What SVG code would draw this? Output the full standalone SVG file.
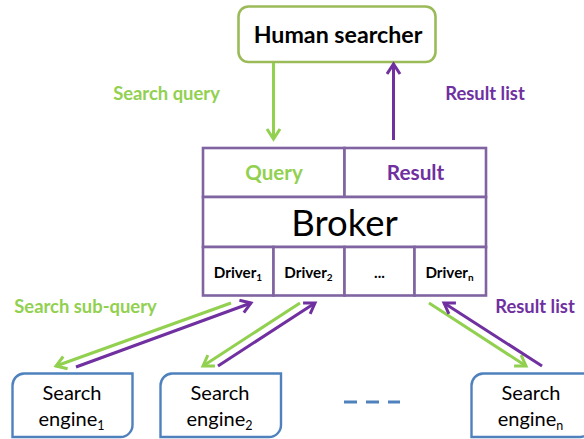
<svg xmlns="http://www.w3.org/2000/svg" width="584" height="439" viewBox="0 0 584 439">
<style>
text{font-family:Lato,"Liberation Sans",sans-serif;fill:#000;text-anchor:middle}
.b{font-weight:700}
.g{fill:#92d050}.p{fill:#7030a0}
.cell{fill:#fff;stroke:#8064a2;stroke-width:2.6}
.eng{fill:#fff;stroke:#4f81bd;stroke-width:2.4}
.c{fill:none;stroke-width:3}
.gl{stroke:#92d050}.pl{stroke:#7030a0}
.e{font-size:20px}.d{font-size:15.200px;font-weight:700}
.l{font-size:18.400px;font-weight:700}
</style>
<defs>
<marker id="ag" markerUnits="userSpaceOnUse" markerWidth="18" markerHeight="18" refX="13" refY="8" orient="auto"><path d="M3 1.5L13 8L3 14.5" fill="none" stroke="#92d050" stroke-width="3"/></marker>
<marker id="ap" markerUnits="userSpaceOnUse" markerWidth="18" markerHeight="18" refX="13" refY="8" orient="auto"><path d="M3 1.500L13 8L3 14.500" fill="none" stroke="#7030a0" stroke-width="3"/></marker>
</defs>
<g id="human-searcher">
<rect x="238.500" y="6.500" width="197" height="55.500" rx="10" fill="#fff" stroke="#9bbb59" stroke-width="2.600"/>
<text x="338" y="42.500" class="b" font-size="23.200">Human searcher</text>
</g>
<g id="broker">
<rect class="cell" x="203" y="148" width="141.500" height="49"/>
<rect class="cell" x="344.500" y="148" width="141.500" height="49"/>
<rect class="cell" x="203" y="197" width="283" height="50"/>
<rect class="cell" x="203" y="247" width="70.500" height="48.500"/>
<rect class="cell" x="273.500" y="247" width="71" height="48.500"/>
<rect class="cell" x="344.500" y="247" width="70" height="48.500"/>
<rect class="cell" x="414.500" y="247" width="71.500" height="48.500"/>
<text x="274" y="180" class="b g" font-size="20.500">Query</text>
<text x="415.500" y="179.500" class="b p" font-size="20.800">Result</text>
<text x="344.500" y="235.500" font-size="36.500">Broker</text>
<text x="238" y="277.500" class="d">Driver<tspan font-size="10" dy="3">1</tspan></text>
<text x="308.500" y="277.500" class="d">Driver<tspan font-size="10" dy="3">2</tspan></text>
<text x="379.500" y="277.500" class="d">...</text>
<text x="449.500" y="277.500" class="d">Driver<tspan font-size="10" dy="3">n</tspan></text>
</g>
<g id="engine-1">
<path class="eng" d="M24 373.500H132.500V425A12 12 0 0 1 120.500 437H12.500V385.500A12 12 0 0 1 24 373.500Z"/>
<text x="72" y="400" class="e">Search</text>
<text x="71.500" y="426" class="e">engine<tspan font-size="12.500" dy="4">1</tspan></text>
</g>
<g id="engine-2">
<path class="eng" d="M172 373.500H281V425A12 12 0 0 1 269 437H160.500V385.500A12 12 0 0 1 172 373.500Z"/>
<text x="220" y="400" class="e">Search</text>
<text x="219.500" y="426" class="e">engine<tspan font-size="12.500" dy="4">2</tspan></text>
</g>
<g id="engine-n">
<path class="eng" d="M483 373.500H592V425A12 12 0 0 1 580 437H471.500V385.500A12 12 0 0 1 483 373.500Z"/>
<text x="531" y="400" class="e">Search</text>
<text x="530.500" y="426" class="e">engine<tspan font-size="12.500" dy="4">n</tspan></text>
</g>
<g id="connectors">
<path class="c gl" marker-end="url(#ag)" d="M273.500 63V139"/>
<path class="c pl" marker-end="url(#ap)" d="M393.500 140V64"/>
<path class="c gl" marker-end="url(#ag)" d="M231 303L56 366"/>
<path class="c pl" marker-end="url(#ap)" d="M76 367L251 303"/>
<path class="c gl" marker-end="url(#ag)" d="M300 303L203 366"/>
<path class="c pl" marker-end="url(#ap)" d="M218 366L315 303"/>
<path class="c gl" marker-end="url(#ag)" d="M429 303L526 366"/>
<path class="c pl" marker-end="url(#ap)" d="M542 366L444 303"/>
<path d="M344 402H400" fill="none" stroke="#4f81bd" stroke-width="3" stroke-dasharray="13 9"/>
</g>
<text x="166.500" y="100" class="l g">Search query</text>
<text x="485" y="99.500" class="l p">Result list</text>
<text x="85.500" y="313" class="l g">Search sub-query</text>
<text x="535" y="312.500" class="l p">Result list</text>
</svg>
